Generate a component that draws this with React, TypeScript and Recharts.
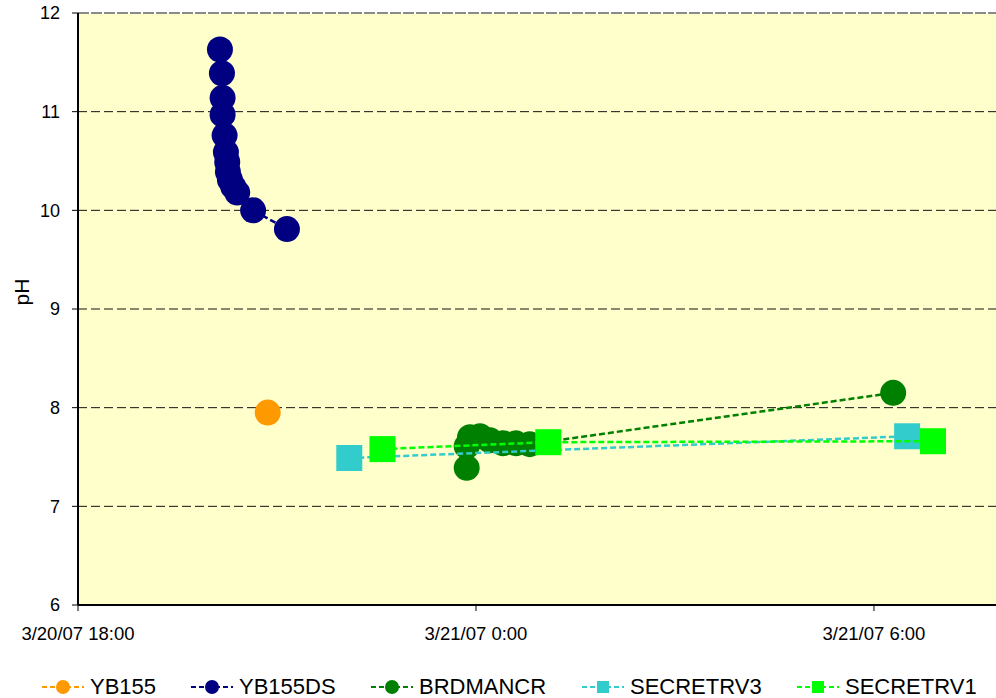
import React from 'react';
import { ScatterChart, Scatter, XAxis, YAxis, CartesianGrid, Legend, ReferenceLine } from 'recharts';

// Time is expressed in hours since 3/20/07 0:00
const xTicks = [18, 24, 30];
const xTickLabels = ['3/20/07 18:00', '3/21/07 0:00', '3/21/07 6:00'];
const yTicks = [6, 7, 8, 9, 10, 11, 12];

const yb155Hours = [20.86];
const yb155PH = [7.95];

const yb155dsHours = [20.14, 20.17, 20.18, 20.18, 20.21, 20.23, 20.25, 20.26, 20.29, 20.34, 20.40, 20.64, 21.15];
const yb155dsPH = [11.63, 11.39, 11.14, 10.97, 10.76, 10.59, 10.49, 10.39, 10.31, 10.24, 10.18, 10.0, 9.81];

const brdmancrHours = [23.86, 23.86, 23.91, 24.06, 24.21, 24.41, 24.6, 24.81, 30.29];
const brdmancrPH = [7.39, 7.61, 7.7, 7.71, 7.67, 7.64, 7.64, 7.63, 8.15];

const secretrv3Hours = [22.09, 30.5];
const secretrv3PH = [7.49, 7.71];

const secretrv1Hours = [22.59, 25.09, 30.89];
const secretrv1PH = [7.58, 7.65, 7.66];

const toPoints = (hours: number[], ph: number[]) => hours.map((t, i) => ({ t, ph: ph[i] }));

const series = [
  { name: 'YB155', color: '#FF9900', marker: 'circle', data: toPoints(yb155Hours, yb155PH) },
  { name: 'YB155DS', color: '#000080', marker: 'circle', data: toPoints(yb155dsHours, yb155dsPH) },
  { name: 'BRDMANCR', color: '#008000', marker: 'circle', data: toPoints(brdmancrHours, brdmancrPH) },
  { name: 'SECRETRV3', color: '#33CCCC', marker: 'square', data: toPoints(secretrv3Hours, secretrv3PH) },
  { name: 'SECRETRV1', color: '#00FF00', marker: 'square', data: toPoints(secretrv1Hours, secretrv1PH) },
];

const FONT = '"Liberation Sans", Arial, sans-serif';
const legendX = [42, 191, 371, 582, 797];

const makeShape = (color: string, marker: string) => (p: any) => {
  if (p.cx == null || p.cy == null) return <g />;
  if (marker === 'square') {
    return <rect x={p.cx - 13} y={p.cy - 13} width={26} height={26} fill={color} />;
  }
  return <circle cx={p.cx} cy={p.cy} r={13} fill={color} />;
};

const LegendContent = () => (
  <div style={{ position: 'relative', width: 996, height: 26 }}>
    {series.map((s, i) => (
      <div
        key={s.name}
        style={{
          position: 'absolute',
          left: legendX[i],
          top: 0,
          height: 26,
          display: 'flex',
          alignItems: 'center',
          whiteSpace: 'nowrap',
        }}
      >
        <svg width={42} height={26} style={{ display: 'block' }}>
          <line x1={0} y1={13} x2={42} y2={13} stroke={s.color} strokeWidth={2} strokeDasharray="5 3" />
          {s.marker === 'square' ? (
            <rect x={15} y={7} width={12} height={12} fill={s.color} />
          ) : (
            <circle cx={21} cy={13} r={7} fill={s.color} />
          )}
        </svg>
        <span style={{ marginLeft: 6, fontFamily: FONT, fontSize: 22, color: '#000', lineHeight: '26px' }}>
          {s.name}
        </span>
      </div>
    ))}
  </div>
);

const PhLabel = () => (
  <text
    x={21}
    y={292}
    transform="rotate(-90 21 292)"
    textAnchor="middle"
    dominantBaseline="central"
    fontFamily={FONT}
    fontSize={21}
    fill="#000"
  >
    pH
  </text>
);

export default function App() {
  return (
    <div style={{ position: 'absolute', left: 0, top: 0, width: 996, height: 698, overflow: 'hidden', background: '#fff' }}>
      <ScatterChart width={996} height={698} margin={{ top: 13, right: 0, bottom: 7, left: 0 }}>
        <CartesianGrid
          vertical={false}
          horizontal={true}
          stroke="#111"
          strokeDasharray="9 4"
          fill="#FFFFCC"
          fillOpacity={1}
        />
        <ReferenceLine y={12} stroke="#8a8a8a" strokeWidth={2} strokeDasharray="11 2" />
        <XAxis
          type="number"
          dataKey="t"
          domain={[18, 31.84]}
          ticks={xTicks}
          allowDataOverflow
          height={60}
          tickFormatter={(v: number) => xTickLabels[xTicks.indexOf(v)] ?? ''}
          axisLine={{ stroke: '#000', strokeWidth: 2 }}
          tickLine={{ stroke: '#000', strokeWidth: 1 }}
          tickSize={6}
          tickMargin={16}
          tick={{ fontFamily: FONT, fontSize: 18.5, fill: '#000' }}
        />
        <YAxis
          type="number"
          dataKey="ph"
          domain={[6, 12]}
          ticks={yTicks}
          allowDataOverflow
          width={78}
          axisLine={{ stroke: '#000', strokeWidth: 2 }}
          tickLine={{ stroke: '#000', strokeWidth: 1 }}
          tickSize={6}
          tickMargin={12}
          tick={{ fontFamily: FONT, fontSize: 18, fill: '#000' }}
          label={<PhLabel />}
        />
        <Legend
          verticalAlign="bottom"
          content={<LegendContent />}
          wrapperStyle={{ top: 674, left: 0, width: 996, height: 26 }}
        />
        {series.map((s) => (
          <Scatter
            key={s.name}
            name={s.name}
            data={s.data}
            fill={s.color}
            isAnimationActive={false}
            line={{ stroke: s.color, strokeWidth: 2.5, strokeDasharray: '6 3' }}
            lineType="joint"
            shape={makeShape(s.color, s.marker)}
          />
        ))}
      </ScatterChart>
    </div>
  );
}
